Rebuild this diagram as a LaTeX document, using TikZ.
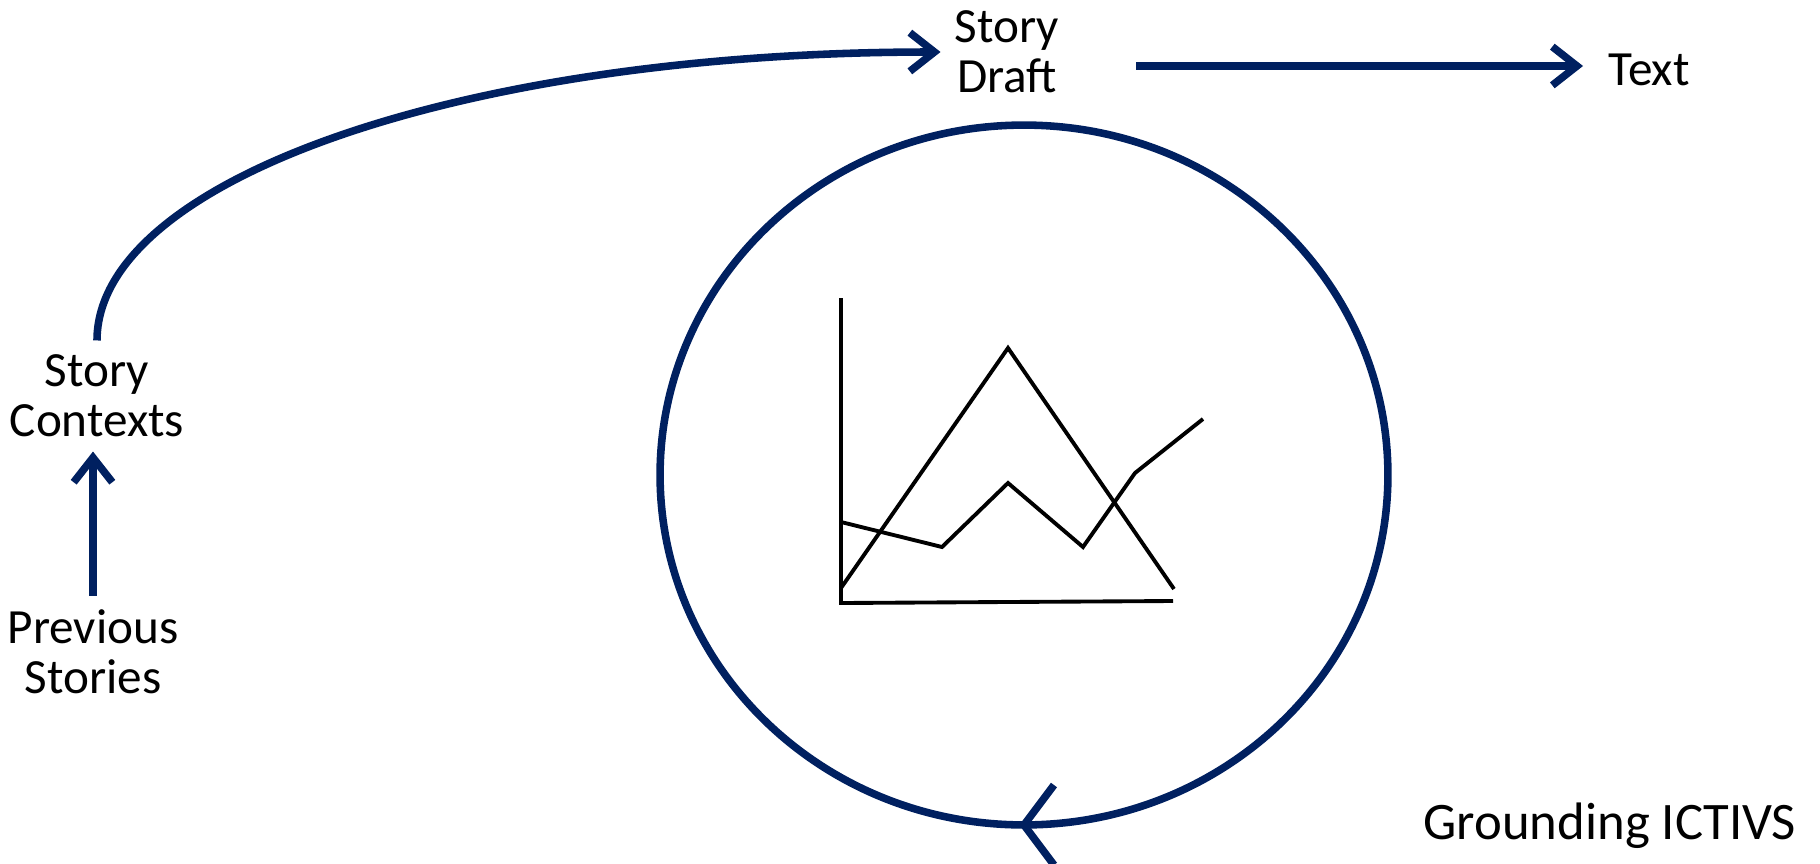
\documentclass[tikz,border=0pt]{standalone}
\usepackage{fontspec}
\setmainfont{Carlito}
\usetikzlibrary{arrows.meta,positioning}

\definecolor{navy}{RGB}{0,32,96}

\tikzset{
  txt/.style={font=\fontsize{28}{28.5}\selectfont, align=center, inner sep=0.28cm},
  flow/.style={draw=navy, line width=4.3pt, -{Straight Barb[length=14pt,width=22pt]}},
  loop/.style={draw=navy, line width=4.3pt},
  chart/.style={draw=black, line width=2.2pt}
}

\begin{document}
\begin{tikzpicture}[x=0.02cm, y=-0.02cm]
    \useasboundingbox (0,0) rectangle (1820,863);

    % labels
    \node[txt] (draft) at (1007,52) {Story\\Draft};
    \node[txt] (text) at (1649,70) {Text};
    \node[txt] (contexts) at (97,396) {Story\\Contexts};
    \node[txt] (previous) at (93,652) {Previous\\Stories};
    \node[txt, font=\fontsize{30}{31}\selectfont] (grounding) at (1610,826) {Grounding ICTIVS};

    % arrows between the stages
    \draw[flow] (previous.north) -- (previous.north |- contexts.south);
    \draw[flow] (contexts.north) .. controls +(0,-160) and +(-480,0) .. (draft.west);
    \coordinate (draftout) at (1136,66);
    \draw[flow, shorten >=0.22cm] (draftout) -- (text.west |- draftout);

    % grounding loop
    \draw[loop] (1024,475) ellipse [x radius=7.28cm, y radius=7cm];
    \draw[loop] (1054,785) -- (1024,825) -- (1054,865);

    % small chart inside
    \draw[chart] (841,298) -- (841,603) -- (1173,601);
    \draw[chart] (841,588) -- (1008,348) -- (1174,589);
    \draw[chart] (841,522) -- (942,547) -- (1008,483) -- (1083,547) -- (1135,473) -- (1203,419);

\end{tikzpicture}
\end{document}
